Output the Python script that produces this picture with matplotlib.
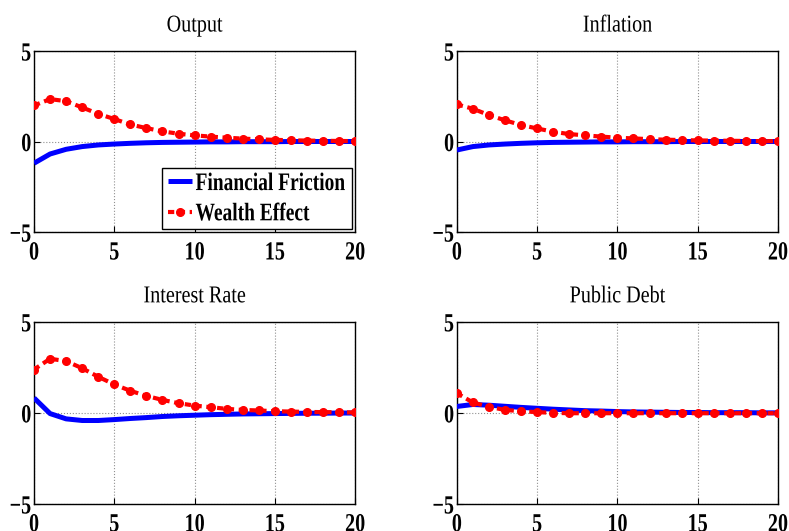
import numpy as np
import matplotlib.pyplot as plt
from matplotlib.patheffects import AbstractPathEffect
from matplotlib.transforms import Affine2D

plt.rcParams['font.family'] = ['Liberation Serif', 'DejaVu Serif']


class TallText(AbstractPathEffect):
    """Stretch glyphs vertically about a reference height (glyph units, 100 per em)."""

    def __init__(self, sy=1.25, anchor=0.0):
        super().__init__()
        self.sy = sy
        self.anchor = anchor

    def draw_path(self, renderer, gc, tpath, affine, rgbFace=None):
        stretch = Affine2D().translate(0, -self.anchor).scale(1, self.sy).translate(0, self.anchor)
        renderer.draw_path(gc, tpath, stretch + affine, rgbFace)


# horizon (quarters)
periods = np.arange(21)

titles = ["Output", "Inflation", "Interest Rate", "Public Debt"]

# impulse responses, financial friction model
ff_output = [-1.20, -0.69, -0.43, -0.28, -0.19, -0.14, -0.10, -0.07, -0.05, -0.04, -0.03,
             -0.02, -0.02, -0.01, -0.01, -0.01, 0.00, 0.00, 0.00, 0.00, 0.00]
ff_inflation = [-0.47, -0.28, -0.19, -0.14, -0.10, -0.07, -0.05, -0.04, -0.03, -0.02, -0.02,
                -0.01, -0.01, -0.01, 0.00, 0.00, 0.00, 0.00, 0.00, 0.00, 0.00]
ff_interest = [0.82, -0.04, -0.33, -0.42, -0.42, -0.37, -0.31, -0.26, -0.20, -0.16, -0.13,
               -0.10, -0.08, -0.06, -0.05, -0.04, -0.03, -0.02, -0.02, -0.01, -0.01]
ff_debt = [0.35, 0.46, 0.42, 0.36, 0.30, 0.25, 0.20, 0.16, 0.12, 0.10, 0.07,
           0.05, 0.04, 0.03, 0.02, 0.02, 0.01, 0.01, 0.01, 0.00, 0.00]

# impulse responses, wealth effect model
we_output = [1.99, 2.34, 2.23, 1.88, 1.53, 1.24, 0.94, 0.74, 0.56, 0.43, 0.34,
             0.27, 0.21, 0.16, 0.12, 0.09, 0.07, 0.05, 0.04, 0.03, 0.02]
we_inflation = [2.05, 1.81, 1.46, 1.17, 0.91, 0.72, 0.54, 0.41, 0.34, 0.27, 0.21,
                0.17, 0.13, 0.10, 0.08, 0.06, 0.05, 0.04, 0.03, 0.02, 0.02]
we_interest = [2.38, 2.97, 2.84, 2.45, 1.98, 1.56, 1.21, 0.93, 0.71, 0.53, 0.40,
               0.31, 0.22, 0.16, 0.13, 0.09, 0.07, 0.05, 0.04, 0.03, 0.02]
we_debt = [1.08, 0.57, 0.33, 0.16, 0.09, 0.04, 0.00, -0.02, -0.02, -0.02, -0.02,
           -0.02, -0.02, -0.02, -0.02, -0.02, -0.02, -0.02, -0.02, -0.02, -0.02]

ff_series = [ff_output, ff_inflation, ff_interest, ff_debt]
we_series = [we_output, we_inflation, we_interest, we_debt]

x_ticks = [0, 5, 10, 15, 20]
y_ticks = [-5, 0, 5]

fig = plt.figure(figsize=(7.89, 5.31), dpi=100)

# panel rectangles [left, bottom, width, height]
boxes = [
    [0.0431, 0.563, 0.407, 0.341],
    [0.579, 0.563, 0.407, 0.341],
    [0.0431, 0.051, 0.407, 0.343],
    [0.579, 0.051, 0.407, 0.343],
]

for i, box in enumerate(boxes):
    ax = fig.add_axes(box)
    ax.plot(periods, ff_series[i], color='blue', lw=3.6, solid_capstyle='butt',
            label='Financial Friction', zorder=3)
    ax.plot(periods, we_series[i], color='red', lw=3.0, ls=(0, (1.5, 1.1)),
            marker='o', ms=5.5, mec='red', mfc='red', label='Wealth Effect', zorder=4)
    ax.set_xlim(0, 20)
    ax.set_ylim(-5, 5)
    ax.set_xticks(x_ticks)
    ax.set_yticks(y_ticks)
    ax.grid(True, ls=':', color='#909090', lw=0.8)
    ax.tick_params(direction='in', length=4, width=0.8, labelsize=14.5)
    ax.tick_params(axis='x', pad=6)
    ax.tick_params(axis='y', pad=2)
    for lab in ax.get_xticklabels():
        lab.set_fontweight('bold')
        lab.set_path_effects([TallText(1.3, 68)])
    for lab in ax.get_yticklabels():
        lab.set_fontweight('bold')
        lab.set_path_effects([TallText(1.3, 34)])
    for sp in ax.spines.values():
        sp.set_linewidth(1.0)
    ax.set_title(titles[i], fontsize=14.5, pad=14, path_effects=[TallText(1.2, 0)])

    if i == 0:
        leg = ax.legend(loc='lower right', prop={'weight': 'bold', 'size': 14},
                        fancybox=False, edgecolor='black', framealpha=1,
                        handlelength=1.2, handletextpad=0.2, borderpad=0.35,
                        labelspacing=0.65, borderaxespad=0.15)
        leg.get_frame().set_linewidth(1.0)
        for txt in leg.get_texts():
            txt.set_path_effects([TallText(1.3, 34)])

fig.savefig('out.png', dpi=100)
